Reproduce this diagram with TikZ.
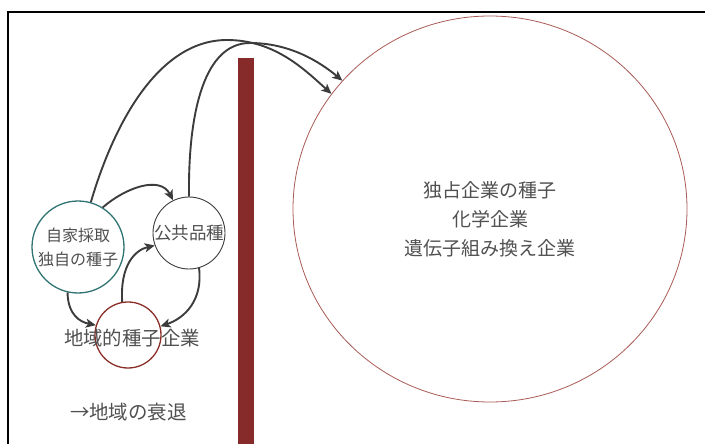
\documentclass[tikz,border=0pt]{standalone}
\usepackage{fontspec}
\setmainfont{Noto Sans CJK JP}
\usetikzlibrary{arrows.meta,shapes.geometric}
\definecolor{txt}{HTML}{505050}
\definecolor{arr}{HTML}{3C3C3C}
\definecolor{teal}{HTML}{2F7472}
\definecolor{brick}{HTML}{8B2E2A}
\definecolor{bar}{HTML}{862B2A}
\definecolor{bigred}{HTML}{A85A55}
\tikzset{
  lbl/.style={text=txt, inner sep=0pt, align=center},
  conn/.style={draw=arr, line width=1.9pt, -{Stealth[length=10pt,width=9pt,inset=2.5pt]}},
}
\begin{document}
\begin{tikzpicture}[x=1pt,y=-1pt]
\useasboundingbox (0,0) rectangle (705,444);
% frame
\draw[line width=2.2pt] (8,444) -- (8,12);
\draw[line width=1.3pt] (7,12) -- (706,12);
% bar
\fill[bar] (238,58) rectangle (254,444);
% nodes
\node[ellipse, draw=bigred, line width=0.8pt, minimum width=394pt, minimum height=386pt, inner sep=0pt] (big) at (490,209) {};
\node[lbl, font=\fontsize{19}{29}\selectfont] (bigtxt) at (490,219) {独占企業の種子\\化学企業\\遺伝子組み換え企業};
\node[circle, draw=teal, line width=1.3pt, minimum size=92pt, inner sep=0pt, lbl, font=\fontsize{16}{24}\selectfont] (jika) at (78,247) {自家採取\\独自の種子};
\node[circle, draw=arr, line width=0.9pt, minimum size=72pt, inner sep=0pt, lbl, font=\fontsize{17.5}{20}\selectfont] (kokyo) at (189,233) {公共品種};
\node[circle, draw=brick, line width=1.3pt, minimum size=66pt, inner sep=0pt] (chiiki) at (128,335) {};
\node[lbl, font=\fontsize{19.4}{22}\selectfont] (chiikitxt) at (132,338) {地域的種子企業};
\node[lbl, font=\fontsize{19.5}{22}\selectfont] (decl) at (128.5,412) {→地域の衰退};
% connectors
\draw[conn] (jika.74) .. controls (115,120) and (160,40) .. (227,40) .. controls (275,40) and (305,70) .. (big.144);
\draw[conn] (kokyo.north) .. controls (188,110) and (205,43) .. (250,43) .. controls (290,43) and (320,62) .. (big.139);
\draw[conn] (jika.58) .. controls (125,188) and (160,175) .. (kokyo.116);
\draw[conn] (jika.257) .. controls (68,315) and (80,322) .. (chiiki.163);
\draw[conn] (chiiki.100) .. controls (120,265) and (135,250) .. (kokyo.200);
\draw[conn] (kokyo.286) .. controls (203,300) and (185,318) .. (chiiki.15);
\end{tikzpicture}
\end{document}
